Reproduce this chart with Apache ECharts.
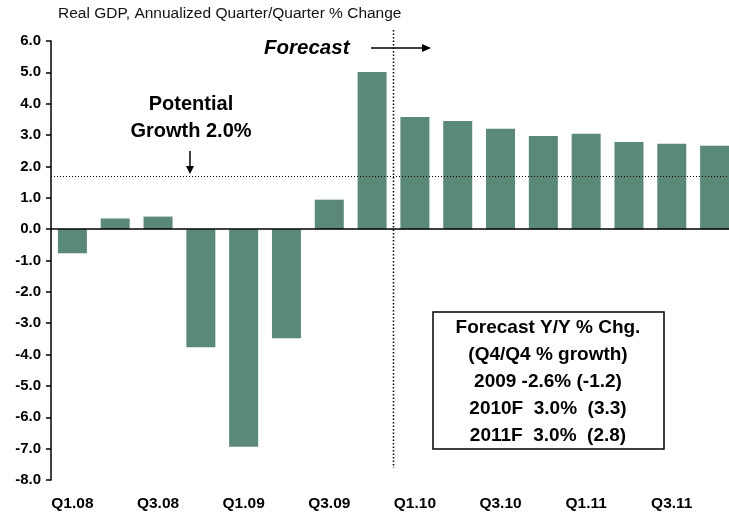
<!DOCTYPE html>
<html>
<head>
<meta charset="utf-8">
<script src="https://cdn.jsdelivr.net/npm/echarts@6/dist/echarts.min.js"></script>
<style>
  html, body { margin: 0; padding: 0; background: #fff; }
  #chart { width: 729px; height: 517px; }
</style>
</head>
<body>
<div id="chart"></div>
<script>
// quarters and annualized q/q % change of real GDP
const categories = ['Q1.08', 'Q2.08', 'Q3.08', 'Q4.08', 'Q1.09', 'Q2.09', 'Q3.09', 'Q4.09',
  'Q1.10', 'Q2.10', 'Q3.10', 'Q4.10', 'Q1.11', 'Q2.11', 'Q3.11', 'Q4.11'];
const gdpChange = [-0.77, 0.34, 0.40, -3.77, -6.94, -3.48, 0.94, 5.01,
  3.58, 3.45, 3.2, 2.97, 3.04, 2.78, 2.72, 2.66];
const potentialLine = 1.7;
const boxLines = ['Forecast Y/Y % Chg.', '(Q4/Q4 % growth)', '2009 -2.6% (-1.2)', '2010F  3.0%  (3.3)', '2011F  3.0%  (2.8)'];

const font = '"Liberation Sans", Arial, sans-serif';
const myChart = echarts.init(document.getElementById('chart'));

const boxText = boxLines.map((t, i) => ({
  type: 'text',
  style: { text: t, x: 548, y: 328 + i * 27, align: 'center', verticalAlign: 'middle',
    font: 'bold 19px ' + font, fill: '#000' }
}));

myChart.setOption({
  animation: false,
  // plot runs a little past the right edge of the picture, like the original
  grid: { left: 51, top: 41, bottom: 37, width: 685, outerBoundsMode: 'none' },
  xAxis: {
    type: 'category',
    data: categories,
    axisLine: { show: false },
    axisTick: { show: false },
    axisLabel: { interval: 1, margin: 16, fontFamily: font, fontWeight: 'bold', fontSize: 15.5, color: '#000' }
  },
  yAxis: {
    type: 'value',
    min: -8, max: 6, interval: 1,
    axisLine: { show: true, lineStyle: { color: '#000', width: 1.5 } },
    axisTick: { show: true, length: 5, lineStyle: { color: '#000', width: 1.5 } },
    splitLine: { show: false },
    axisLabel: { margin: 10, fontFamily: font, fontWeight: 'bold', fontSize: 15, color: '#000',
      formatter: v => v.toFixed(1) }
  },
  series: [{
    type: 'bar',
    data: gdpChange,
    barWidth: 29,
    itemStyle: { color: '#5b8977' },
    markLine: {
      silent: true,
      symbol: 'none',
      label: { show: false },
      data: [
        { yAxis: 0, lineStyle: { color: '#000', width: 1.5, type: 'solid' } },
        { yAxis: potentialLine, lineStyle: { color: '#000', width: 1, type: [1, 2] } }
      ]
    }
  }],
  graphic: [
    { type: 'text', style: { text: 'Real GDP, Annualized Quarter/Quarter % Change', x: 58, y: 14,
      verticalAlign: 'middle', font: '15.5px ' + font, fill: '#111' } },
    { type: 'text', style: { text: 'Forecast', x: 264, y: 48, verticalAlign: 'middle',
      font: 'italic bold 20.5px ' + font, fill: '#000' } },
    { type: 'line', shape: { x1: 371, y1: 48, x2: 424, y2: 48 }, style: { stroke: '#000', lineWidth: 1.5 } },
    { type: 'polygon', shape: { points: [[431, 48], [422, 44], [422, 52]] }, style: { fill: '#000' } },
    { type: 'text', style: { text: 'Potential\nGrowth 2.0%', x: 191, y: 118, align: 'center',
      verticalAlign: 'middle', lineHeight: 27, font: 'bold 20px ' + font, fill: '#000' } },
    { type: 'line', shape: { x1: 190, y1: 151, x2: 190, y2: 168 }, style: { stroke: '#000', lineWidth: 1.5 } },
    { type: 'polygon', shape: { points: [[190, 174], [186, 166], [194, 166]] }, style: { fill: '#000' } },
    { type: 'rect', shape: { x: 433, y: 312, width: 231, height: 137 },
      style: { fill: '#fff', stroke: '#000', lineWidth: 1.5 } }
  ].concat(boxText)
});

// dotted divider between actuals and forecast, on the Q4.09 / Q1.10 boundary
const xa = myChart.convertToPixel({ xAxisIndex: 0 }, categories[7]);
const xb = myChart.convertToPixel({ xAxisIndex: 0 }, categories[8]);
const xDiv = Math.round((xa + xb) / 2) - 0.5;
const opt = myChart.getOption();
myChart.setOption({
  graphic: opt.graphic[0].elements.concat([{
    type: 'line', shape: { x1: xDiv, y1: 30, x2: xDiv, y2: 468 },
    style: { stroke: '#000', lineWidth: 1.5, lineDash: [1.5, 2] }
  }])
});

window.onresize = function () {
  myChart.resize();
};
</script>
</body>
</html>
